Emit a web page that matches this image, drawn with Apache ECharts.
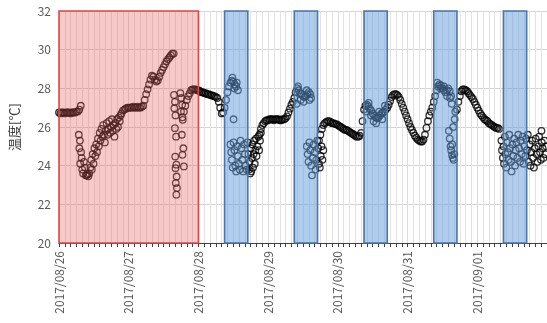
<!DOCTYPE html>
<html>
    <head>
        <meta charset="utf-8">
        <script src="https://cdn.jsdelivr.net/npm/echarts@6/dist/echarts.min.js"></script>
    </head>
    <body style="margin:0">
        <style>
            html, body, #main {
                width: 547px;
                height: 323px;
            }
        </style>
        <div id="main"></div>
        <script>
            // x = hours since 2017/08/26 00:00, one value per 30 min
            var dateLabels = ['2017/08/26', '2017/08/27', '2017/08/28', '2017/08/29', '2017/08/30', '2017/08/31', '2017/09/01'];

            var day0826 = [26.75, 26.7, 26.75, 26.75, 26.7, 26.75, 26.75, 26.75, 26.7, 26.75, 26.75, 26.75, 26.8, 26.8,
                26.9, 27.1,
                null, null, null, null, null, null, null, null, null, null, null, null, null, null,
                null, null, null, null, null, null, null, null, null, null, null, null, null,
                26.7, 26.85, 26.9, 26.95, 27.0];
            var day0827 = [27.0, 27.0, 27.0, 27.05, 27.0, 27.0, 27.05, 27.0, 27.0, 27.05,
                27.1, 27.4, 27.7, 27.95, 28.2, 28.45, 28.65, 28.6, 28.45, 28.35, 28.4, 28.6, 28.8, 28.95,
                29.1, 29.25, 29.4, 29.5, 29.6, 29.7, 29.8, 29.8,
                null, null, null, null, null,
                26.5, 26.8, 27.1, 27.4, 27.6, 27.75, 27.9, 27.95, 27.95, 27.95, 27.9];
            var day0828 = [27.9, 27.85, 27.8, 27.8, 27.75, 27.75, 27.7, 27.7, 27.65, 27.65, 27.6, 27.6, 27.55, 27.5,
                27.3, 27.0, 26.7, 26.75, 27.0, 27.4, 27.8, 28.1, 28.3, 28.4, 28.35, 28.2, 28.1,
                null, null, null, null, null, null, null, null, null, null, null, null, null, null, null,
                25.6, 25.9, 26.1, 26.2, 26.3, 26.35];
            var day0829 = [26.35, 26.4, 26.4, 26.4, 26.35, 26.4, 26.4, 26.4, 26.35, 26.35, 26.4, 26.4, 26.45,
                26.55, 26.75, 26.95, 27.15, 27.3, 27.5, 27.8, 28.0, 27.9, 27.75, 27.7, 27.6, 27.55, 27.6, 27.7, 27.8, 27.7,
                null, null, null, null, null,
                25.3, 25.6, 25.9, 26.1, 26.2, 26.25, 26.3, 26.3, 26.25, 26.2, 26.2, 26.15, 26.15];
            var day0830 = [26.1, 26.05, 26.0, 25.95, 25.9, 25.85, 25.85, 25.8, 25.75, 25.7, 25.65, 25.6, 25.55, 25.5,
                25.5, 25.55, 25.7, 26.3, 26.9, 27.1, 27.15, 27.05, 26.95, 26.85, 26.7, 26.6, 26.5, 26.45,
                26.5, 26.6, 26.7, 26.75, 26.8, 26.9, 27.0, 27.15, 27.35, 27.55, 27.65, 27.7, 27.7, 27.65,
                27.55, 27.4, 27.2, 27.0, 26.8, 26.6];
            var day0831 = [26.4, 26.2, 26.0, 25.85, 25.7, 25.55, 25.45, 25.35, 25.3, 25.25, 25.25, 25.35,
                25.6, 25.95, 26.3, 26.6, 26.8, 27.0, 27.3, 27.6, 27.9, 28.1, 28.2, 28.15, 28.0, 27.9, 27.8,
                27.9, 28.0, 27.85, 27.6,
                null, null, null,
                26.9, 27.3, 27.6, 27.85, 27.95, 27.95, 27.9, 27.85, 27.75, 27.65, 27.55, 27.45, 27.3, 27.15];
            var day0901 = [27.0, 26.85, 26.7, 26.6, 26.5, 26.4, 26.35, 26.3, 26.2, 26.15, 26.1, 26.05, 26.0, 25.95,
                25.95, 25.9,
                null, null, null, null, null, null, null, null, null, null, null, null, null, null, null, null,
                null, null, null, null, null, null, null, null, null, null, null, null, null, null, null, null];

            // scattered readings, [hour, value]
            var cloud0826 = [[6.8, 25.6], [7.2, 25.3], [7.0, 24.9], [7.6, 24.7], [7.8, 24.4], [7.3, 24.1], [8.0, 23.8],
                [8.3, 23.6], [8.6, 24.2], [8.9, 23.9], [9.2, 23.5], [9.5, 23.5], [9.8, 23.55], [10.1, 23.45], [10.4, 23.6],
                [10.8, 23.9], [11.1, 24.3], [11.3, 23.8], [11.6, 24.6], [11.9, 24.1], [12.2, 24.9], [12.5, 24.5],
                [12.8, 25.1], [13.1, 24.7], [13.4, 25.4], [13.7, 25.0], [14.0, 25.7], [14.3, 25.3], [14.6, 25.9],
                [14.9, 25.5], [15.2, 26.1], [15.5, 25.6], [15.8, 25.2], [16.1, 25.8], [16.4, 26.2], [16.7, 25.6],
                [17.0, 25.9], [17.3, 26.3], [17.6, 25.7], [17.9, 26.0], [18.2, 26.4], [18.5, 25.8], [18.8, 26.1],
                [19.1, 25.5], [19.4, 26.2], [19.7, 25.9], [20.0, 26.4], [20.3, 26.0], [20.6, 26.5], [20.9, 26.3], [21.2, 26.6]];
            var cloud0827 = [[39.6, 27.66], [39.9, 27.3], [39.7, 26.97], [40.1, 26.6], [39.9, 25.94], [40.3, 25.5],
                [40.0, 24.47], [40.4, 24.05], [40.1, 23.87], [40.5, 23.44], [40.2, 23.1], [40.6, 22.84], [40.4, 22.5],
                [41.8, 27.75], [42.1, 27.5], [42.4, 27.15], [42.0, 26.8], [42.6, 26.37], [42.3, 25.6], [42.8, 24.9],
                [42.5, 24.56], [43.0, 23.96]];
            var cloud0828 = [[59.7, 28.55], [60.3, 28.0], [61.2, 28.3], [61.6, 27.9], [60.1, 26.4],
                [59.0, 25.1], [59.3, 24.7], [59.5, 24.3], [59.8, 23.9], [60.1, 25.2], [60.4, 24.8], [60.7, 24.0],
                [61.0, 23.7], [61.3, 25.0], [61.6, 24.5], [61.9, 24.1], [62.2, 23.8], [62.5, 25.3], [62.8, 24.9],
                [63.1, 24.3], [63.4, 23.7], [63.7, 25.1], [64.0, 24.6], [64.3, 24.0], [64.6, 23.8], [64.9, 25.2],
                [65.2, 24.6], [65.4, 23.8], [65.6, 24.2], [65.8, 23.6], [66.0, 24.9], [66.2, 23.7], [66.4, 24.4],
                [66.6, 25.1], [66.8, 23.9], [67.0, 24.6], [67.2, 25.3], [67.4, 24.1], [67.6, 24.8], [67.8, 25.4],
                [68.0, 24.5], [68.3, 25.0], [68.6, 25.5], [68.9, 24.8], [69.2, 25.3], [69.5, 25.7]];
            var cloud0829 = [[81.8, 27.2], [82.3, 28.1], [83.2, 27.4], [84.2, 27.3], [85.3, 27.9], [86.2, 27.4], [86.8, 27.5],
                [85.3, 25.0], [85.6, 24.6], [85.9, 24.2], [86.2, 25.2], [86.5, 24.8], [86.8, 24.0], [87.1, 23.5],
                [87.4, 24.4], [87.7, 25.1], [88.0, 24.7], [88.3, 23.8], [88.6, 24.3], [88.9, 25.3], [89.2, 24.9],
                [89.5, 24.1], [89.8, 23.9], [90.1, 24.5], [90.4, 25.0], [90.7, 24.3], [91.0, 24.8]];
            var cloud0830 = [[105.8, 26.8], [106.6, 27.25], [107.4, 26.6], [108.3, 26.3], [109.2, 26.2],
                [110.2, 26.8], [111.3, 26.4], [112.2, 27.1]];
            var cloud0831 = [[130.2, 28.3], [131.3, 28.0], [132.5, 28.1], [133.6, 27.6], [134.6, 27.5], [135.2, 27.2],
                [134.2, 25.8], [134.5, 25.4], [134.8, 25.0], [135.0, 24.8], [135.3, 24.55], [135.6, 24.4], [135.9, 24.3],
                [135.4, 25.1], [136.1, 24.6], [135.7, 26.0], [136.2, 26.4], [136.4, 26.8]];
            var cloud0901 = [[152.3, 25.3], [152.5, 24.8], [152.8, 24.4], [153.0, 25.0], [153.2, 24.1], [153.5, 25.5],
                [153.7, 24.6], [154.0, 23.9], [154.2, 25.2], [154.5, 24.7], [154.8, 24.3], [155.0, 25.6], [155.3, 24.9],
                [155.6, 24.2], [155.8, 23.7], [156.1, 25.1], [156.4, 24.5], [156.7, 25.4], [157.0, 24.0], [157.2, 24.8],
                [157.5, 25.2], [157.8, 24.4], [158.1, 25.6], [158.4, 24.9], [158.7, 24.2], [159.0, 25.3], [159.3, 24.6],
                [159.6, 25.5], [159.9, 24.1], [160.2, 25.0], [160.5, 24.5], [160.8, 25.4],
                [161.1, 24.8], [161.4, 25.6], [161.7, 24.2], [162.0, 25.1], [162.3, 24.0], [162.6, 24.7], [162.9, 25.3],
                [163.2, 24.4], [163.5, 23.9], [163.8, 24.9], [164.1, 25.4], [164.4, 24.6], [164.7, 24.2], [165.0, 25.0],
                [165.3, 25.5], [165.6, 24.7], [165.9, 24.3], [166.1, 25.8], [166.2, 25.2], [166.5, 24.9], [166.8, 24.4],
                [167.1, 25.3], [167.4, 24.6], [167.7, 25.0]];

            // shaded periods [startHour, endHour]
            var testPeriod = [[0, 48]];
            var workHours = [[57, 65], [81, 89], [105, 113], [129, 137], [153, 161]];

            var days = [day0826, day0827, day0828, day0829, day0830, day0831, day0901];
            var points = [];
            days.forEach(function (arr, d) {
                arr.forEach(function (v, i) {
                    if (v != null) points.push([d * 24 + i * 0.5, v]);
                });
            });
            points = points.concat(cloud0826, cloud0827, cloud0828, cloud0829, cloud0830, cloud0831, cloud0901);

            function bandRenderer(fill, stroke) {
                return function (params, api) {
                    var p0 = api.coord([api.value(0), 32]);
                    var p1 = api.coord([api.value(1), 20]);
                    return {
                        type: 'rect',
                        shape: {x: p0[0], y: p0[1], width: p1[0] - p0[0], height: p1[1] - p0[1]},
                        style: {fill: fill, stroke: stroke, lineWidth: 1.6}
                    };
                };
            }

            var chart = echarts.init(document.getElementById('main'));
            var font = 'Noto Sans CJK JP';

            chart.setOption({
                animation: false,
                textStyle: {fontFamily: font},
                grid: {left: 58.7, top: 11, width: 490, height: 232},
                xAxis: {
                    type: 'value',
                    min: 0,
                    max: 168,
                    interval: 24,
                    axisLine: {lineStyle: {color: '#404040', width: 1}},
                    axisTick: {show: true, length: 4, lineStyle: {color: '#404040'}},
                    minorTick: {show: true, splitNumber: 12, length: 4, lineStyle: {color: '#404040'}},
                    splitLine: {show: true, lineStyle: {color: '#dcdcdc'}},
                    minorSplitLine: {show: true, lineStyle: {color: '#e2e2e2'}},
                    axisLabel: {
                        rotate: 90,
                        margin: 8,
                        fontSize: 12,
                        color: '#595959',
                        fontFamily: font,
                        formatter: function (v) {
                            return dateLabels[v / 24] || '';
                        }
                    }
                },
                yAxis: {
                    type: 'value',
                    min: 20,
                    max: 32,
                    interval: 2,
                    name: '温度[℃]',
                    nameLocation: 'middle',
                    nameGap: 38,
                    nameTextStyle: {fontSize: 13, color: '#404040', fontFamily: font},
                    axisLine: {show: false},
                    axisTick: {show: false},
                    splitLine: {lineStyle: {color: '#d4d4d4'}},
                    axisLabel: {fontSize: 12, color: '#595959', margin: 8, fontFamily: font}
                },
                series: [{
                    type: 'scatter',
                    z: 2,
                    symbol: 'circle',
                    symbolSize: 6.5,
                    itemStyle: {color: 'rgba(0,0,0,0)', borderColor: '#000', borderWidth: 1.3},
                    emphasis: {disabled: true},
                    data: points
                }, {
                    type: 'custom',
                    z: 5,
                    silent: true,
                    encode: {x: [0, 1]},
                    renderItem: bandRenderer('rgba(235,90,90,0.33)', '#d84a4a'),
                    data: testPeriod
                }, {
                    type: 'custom',
                    z: 5,
                    silent: true,
                    encode: {x: [0, 1]},
                    renderItem: bandRenderer('rgba(100,155,220,0.5)', '#4a76a8'),
                    data: workHours
                }]
            });
        </script>
    </body>
</html>
